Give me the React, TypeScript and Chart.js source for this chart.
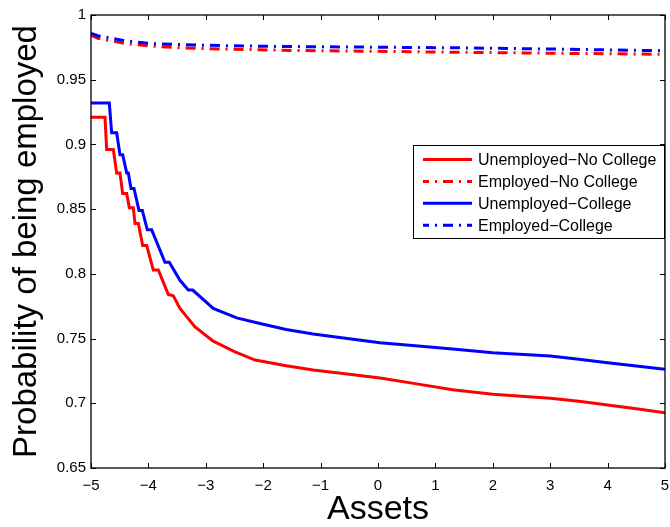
import React, { useEffect, useRef } from "react";
import { Chart, registerables } from "chart.js";

Chart.register(...registerables);

// Unemployed - No College (red, solid)
const assetsUnNoCol = [-5, -4.756, -4.727, -4.611, -4.553, -4.495, -4.448, -4.378, -4.332, -4.263, -4.233, -4.175, -4.1, -4.03, -3.915, -3.827, -3.653, -3.566, -3.45, -3.188, -2.87, -2.5, -2.14, -1.6, -1.13, -0.5, 0.035, 0.7, 1.3, 2.0, 3.0, 3.5, 4.0, 4.5, 5.0];
const probUnNoCol = [0.921, 0.921, 0.896, 0.896, 0.878, 0.878, 0.862, 0.862, 0.851, 0.851, 0.839, 0.839, 0.822, 0.822, 0.803, 0.803, 0.784, 0.783, 0.7733, 0.759, 0.748, 0.740, 0.7334, 0.729, 0.7257, 0.7225, 0.7195, 0.7148, 0.7105, 0.707, 0.7038, 0.7015, 0.6986, 0.6958, 0.6927];

// Unemployed - College (blue, solid)
const assetsUnCol = [-5, -4.681, -4.64, -4.553, -4.495, -4.448, -4.378, -4.35, -4.303, -4.251, -4.164, -4.106, -4.019, -3.943, -3.711, -3.636, -3.45, -3.305, -3.228, -2.87, -2.462, -2.056, -1.6, -1.13, -0.5, 0.035, 0.7, 1.3, 2.0, 3.0, 3.5, 4.0, 4.5, 5.0];
const probUnCol = [0.932, 0.932, 0.909, 0.909, 0.892, 0.892, 0.878, 0.878, 0.866, 0.866, 0.849, 0.849, 0.834, 0.834, 0.809, 0.809, 0.795, 0.7875, 0.7875, 0.7733, 0.766, 0.7617, 0.757, 0.7535, 0.7498, 0.7468, 0.7442, 0.742, 0.739, 0.7365, 0.734, 0.7313, 0.7288, 0.7262];

// Employed (dash-dot)
const assetsEmp = [-5, -4.88, -4.41, -3.97, -3.57, -3.14, -2.72, -1.88, -1.48, 0, 1.46, 3, 5];
const probEmpNoCol = [0.9845, 0.982, 0.978, 0.976, 0.975, 0.9742, 0.9737, 0.973, 0.9726, 0.9719, 0.9712, 0.9705, 0.9696];
const probEmpCol = [0.9858, 0.984, 0.9801, 0.978, 0.9773, 0.9768, 0.9763, 0.9758, 0.9756, 0.9751, 0.9746, 0.9737, 0.9724];

const seriesLabels = ["Unemployed\u2212No College", "Employed\u2212No College", "Unemployed\u2212College", "Employed\u2212College"];
const xTitle = "Assets";
const yTitle = "Probability of being employed";

const FONT = "'Liberation Sans', Arial, Helvetica, sans-serif";
const RED = "#ff0000";
const BLUE = "#0000ff";
const DASHDOT = [10, 6, 2, 6];

const toPoints = (xs: number[], ys: number[]) => xs.map((x, i) => ({ x, y: ys[i] }));

const boxPlugin = {
  id: "matlabBox",
  afterDraw(chart: any) {
    const { ctx, chartArea } = chart;
    const { left, right, top, bottom } = chartArea;
    ctx.save();
    ctx.strokeStyle = "#000";
    ctx.lineWidth = 1.3;
    ctx.strokeRect(left, top, right - left, bottom - top);
    const tl = 5;
    ctx.beginPath();
    const xs = chart.scales.x;
    xs.ticks.forEach((t: any) => {
      const px = Math.round(xs.getPixelForValue(t.value)) + 0.5;
      ctx.moveTo(px, bottom);
      ctx.lineTo(px, bottom - tl);
      ctx.moveTo(px, top);
      ctx.lineTo(px, top + tl);
    });
    const ys = chart.scales.y;
    ys.ticks.forEach((t: any) => {
      const py = Math.round(ys.getPixelForValue(t.value)) + 0.5;
      ctx.moveTo(left, py);
      ctx.lineTo(left + tl, py);
      ctx.moveTo(right, py);
      ctx.lineTo(right - tl, py);
    });
    ctx.lineWidth = 1;
    ctx.stroke();

    // legend
    const bx = 413, by = 145, bw = 251, bh = 93;
    ctx.fillStyle = "#fff";
    ctx.fillRect(bx, by, bw, bh);
    ctx.strokeStyle = "#000";
    ctx.lineWidth = 1;
    ctx.strokeRect(bx + 0.5, by + 0.5, bw, bh);
    ctx.font = "16px " + FONT;
    ctx.textBaseline = "middle";
    ctx.textAlign = "left";
    chart.data.datasets.forEach((ds: any, i: number) => {
      const y = by + 14.5 + i * 21.9;
      ctx.beginPath();
      ctx.strokeStyle = ds.borderColor;
      ctx.lineWidth = 3;
      ctx.setLineDash(ds.borderDash || []);
      ctx.lineDashOffset = 4;
      ctx.moveTo(bx + 10, y);
      ctx.lineTo(bx + 59, y);
      ctx.stroke();
      ctx.setLineDash([]);
      ctx.fillStyle = "#000";
      ctx.fillText(ds.label, bx + 65, y + 1);
    });
    ctx.restore();
  },
};

export default function App() {
  const ref = useRef<HTMLCanvasElement | null>(null);
  useEffect(() => {
    if (!ref.current) return;
    const chart = new Chart(ref.current, {
      type: "line",
      data: {
        datasets: [
          { label: seriesLabels[0], data: toPoints(assetsUnNoCol, probUnNoCol), borderColor: RED, borderWidth: 3, order: 3 },
          { label: seriesLabels[1], data: toPoints(assetsEmp, probEmpNoCol), borderColor: RED, borderWidth: 3, borderDash: DASHDOT, order: 2 },
          { label: seriesLabels[2], data: toPoints(assetsUnCol, probUnCol), borderColor: BLUE, borderWidth: 3, order: 1 },
          { label: seriesLabels[3], data: toPoints(assetsEmp, probEmpCol), borderColor: BLUE, borderWidth: 3, borderDash: DASHDOT, order: 0 },
        ] as any,
      },
      options: {
        animation: false,
        responsive: false,
        maintainAspectRatio: false,
        layout: { padding: { left: 0, top: 15, right: 5, bottom: 0 } },
        elements: { point: { radius: 0 }, line: { tension: 0, borderCapStyle: "butt", borderJoinStyle: "miter" } },
        plugins: { legend: { display: false }, tooltip: { enabled: false } },
        scales: {
          x: {
            type: "linear",
            min: -5,
            max: 5,
            afterFit: (s: any) => { s.height = 59; s.paddingLeft = 0; s.paddingRight = 0; },
            grid: { display: false, drawTicks: false },
            border: { display: false },
            ticks: {
              stepSize: 1,
              padding: 9,
              color: "#000",
              font: { family: FONT, size: 15 },
              maxRotation: 0,
              callback: (v: any) => String(v).replace("-", "\u2212"),
            },
            title: {
              display: true,
              text: xTitle,
              color: "#000",
              font: { family: FONT, size: 34, lineHeight: 1 },
              padding: { top: 0, bottom: 0 },
            },
          },
          y: {
            type: "linear",
            min: 0.65,
            max: 1,
            afterFit: (s: any) => { s.width = 91; s.paddingTop = 0; s.paddingBottom = 0; },
            grid: { display: false, drawTicks: false },
            border: { display: false },
            ticks: {
              stepSize: 0.05,
              padding: 5,
              color: "#000",
              font: { family: FONT, size: 15 },
              callback: (v: any) => String(Number(Number(v).toFixed(2))),
            },
            title: {
              display: true,
              text: yTitle,
              color: "#000",
              font: { family: FONT, size: 33, lineHeight: 1 },
              padding: { top: 10, bottom: 0 },
            },
          },
        },
      },
      plugins: [boxPlugin],
    } as any);
    return () => chart.destroy();
  }, []);
  return (
    <div style={{ position: "fixed", left: 0, top: 0, width: 670, height: 527, background: "#fff" }}>
      <canvas ref={ref} width={670} height={527} style={{ width: 670, height: 527, display: "block" }} />
    </div>
  );
}
